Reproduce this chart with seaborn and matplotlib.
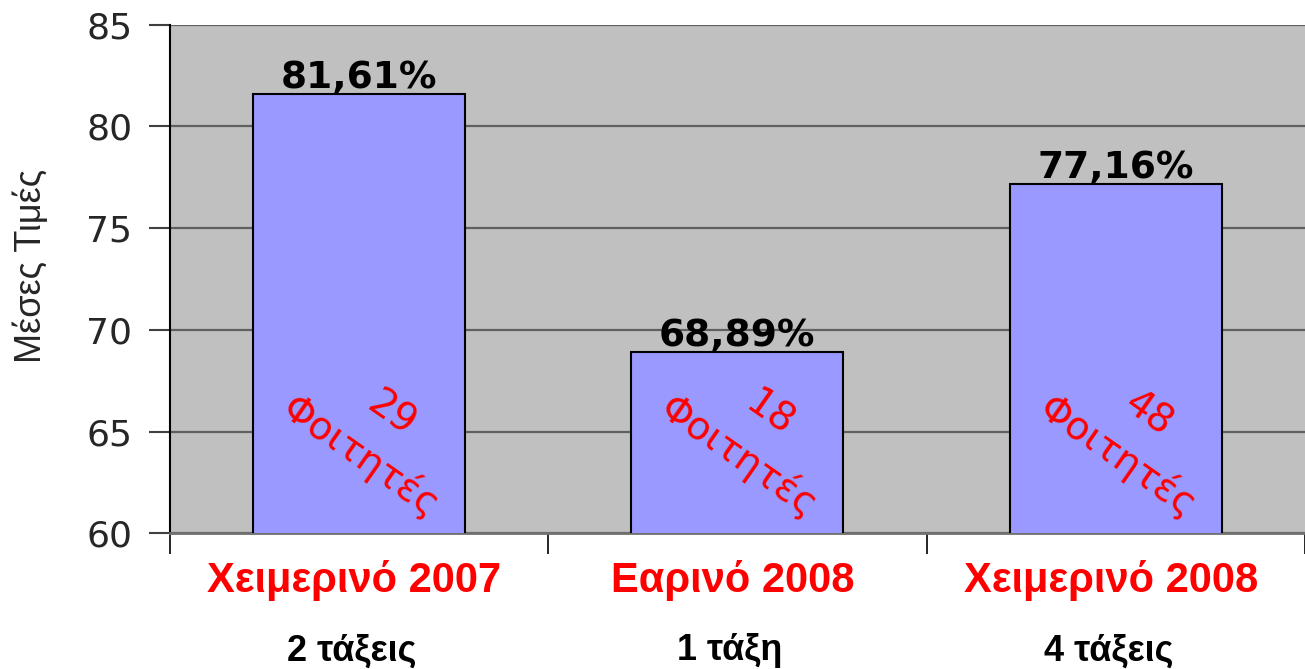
import numpy as np
import pandas as pd
import seaborn as sns
import matplotlib.pyplot as plt
from matplotlib import transforms

# data
semesters = ['Χειμερινό 2007', 'Εαρινό 2008', 'Χειμερινό 2008']
classes = ['2 τάξεις', '1 τάξη', '4 τάξεις']
means = [81.61, 68.89, 77.16]
students = [29, 18, 48]

df = pd.DataFrame({'semester': semesters, 'mean': means})

sns.set_style('ticks')
plt.rcParams['font.family'] = ['DejaVu Sans']

fig = plt.figure(figsize=(13.05, 6.69), dpi=100)
ax = fig.add_axes([0.130, 0.203, 0.870, 0.760])
ax.set_facecolor('#C0C0C0')

sns.barplot(data=df, x='semester', y='mean', color='#9999FF', saturation=1,
            edgecolor='black', linewidth=1.5, width=0.56, ax=ax, zorder=3)

ax.set_ylim(60, 85)
ax.set_xlim(-0.5, 2.5)
ax.set_yticks([60, 65, 70, 75, 80, 85])
ax.grid(axis='y', color='#606060', linewidth=1.6, zorder=0)
ax.set_axisbelow(True)

# category boundaries carry the x tick marks
ax.set_xticks([-0.5, 0.5, 1.5, 2.5])
ax.set_xticklabels([])
ax.tick_params(axis='x', length=15, width=1.2, color='black', direction='out')
ax.tick_params(axis='y', length=15, width=1.5, color='#404040', labelsize=26, pad=12)
ax.set_xlabel('')
ax.set_ylabel('Μέσες Τιμές', fontsize=26, family='Liberation Sans')
ax.yaxis.set_label_coords(-0.106, 0.525)

for s in ['top', 'right']:
    ax.spines[s].set_visible(False)
ax.spines['left'].set_color('black')
ax.spines['left'].set_linewidth(1.5)
ax.spines['bottom'].set_color('#707070')
ax.spines['bottom'].set_linewidth(2)

# value labels on top of the bars
for i, v in enumerate(means):
    ax.text(i, v + 0.3, f'{v:.2f}'.replace('.', ',') + '%', ha='center', va='baseline',
            fontsize=27, fontweight='bold', color='black', zorder=5)

# red rotated student counts inside the bars
for i, n in enumerate(students):
    ax.text(i + 0.045, 64.8, f'{n}\nΦοιτητές', ha='center', va='center',
            multialignment='center', rotation=-35, rotation_mode='anchor',
            fontsize=28, color='#FF0000', linespacing=1.45, zorder=5)

trans = transforms.blended_transform_factory(ax.transData, ax.transAxes)
for i, (s, c) in enumerate(zip(semesters, classes)):
    ax.text(i - 0.012, -0.116, s, transform=trans, ha='center', va='baseline',
            fontsize=30, fontweight='bold', color='#FF0000', family='Liberation Sans')
    ax.text(i - 0.02, -0.25, c, transform=trans, ha='center', va='baseline',
            fontsize=26, fontweight='bold', color='black', family='Liberation Sans')

fig.savefig('out.png', dpi=100)
